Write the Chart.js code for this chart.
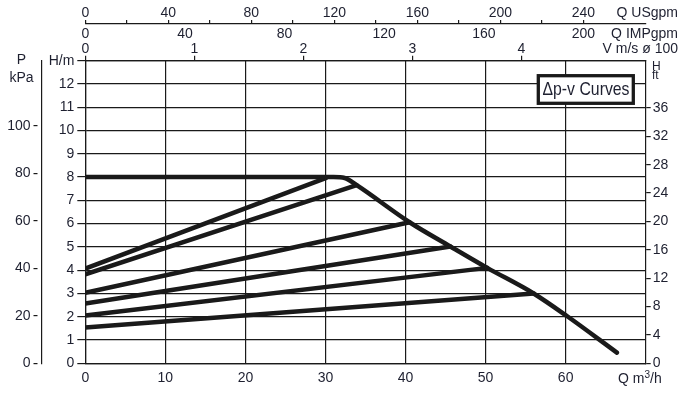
<!DOCTYPE html>
<html>
<head>
<meta charset="utf-8">
<title>Δp-v Curves</title>
<script src="https://cdn.jsdelivr.net/npm/chart.js@4/dist/chart.umd.min.js"></script>
<style>
  html, body { margin: 0; padding: 0; background: #fff; }
  #wrap { width: 687px; height: 395px; position: relative; }
</style>
</head>
<body>
<div id="wrap"><canvas id="pumpChart"></canvas></div>
<script>
'use strict';

// tick values of every axis
var qTicks = [0, 10, 20, 30, 40, 50, 60];
var hTicks = [0, 1, 2, 3, 4, 5, 6, 7, 8, 9, 10, 11, 12, 13];
var kpaTicks = [0, 20, 40, 60, 80, 100];
var ftTicks = [0, 4, 8, 12, 16, 20, 24, 28, 32, 36];
var usgpmTicks = [0, 20, 40, 60, 80, 100, 120, 140, 160, 180, 200, 220, 240];
var impTicks = [0, 40, 80, 120, 160, 200];
var velTicks = [0, 1, 2, 3, 4];

// max speed curve (Q m3/h, H m)
var maxQ = [0, 31, 32.4, 33.9, 40.5, 45.6, 50.2, 56, 60.2, 66.4];
var maxH = [8, 8, 7.96, 7.65, 6.06, 5.02, 4.1, 3.0, 2.02, 0.46];

// dp-v lines: head at zero flow, and where each one meets the max curve
var dpvStartH = [4.07, 3.82, 3.03, 2.57, 2.05, 1.54];
var dpvEndQ = [30.1, 33.9, 40.5, 45.6, 50.2, 56];
var dpvEndH = [7.97, 7.65, 6.06, 5.02, 4.1, 3.0];

(function() {
  var ink = '#1a1a1a';
  var textColor = '#1e2030';
  var font = '"Liberation Sans", Arial, sans-serif';

  Chart.defaults.font.family = font;
  Chart.defaults.font.size = 14;
  Chart.defaults.font.lineHeight = 1;
  Chart.defaults.color = textColor;

  function fixedTicks(list) {
    return function(scale) {
      scale.ticks = list.map(function(v) { return { value: v }; });
    };
  }

  var datasets = [];
  dpvStartH.forEach(function(h, i) {
    datasets.push({
      data: [{ x: 0, y: h }, { x: dpvEndQ[i], y: dpvEndH[i] }]
    });
  });
  datasets.push({
    data: maxQ.map(function(q, i) { return { x: q, y: maxH[i] }; }),
    cubicInterpolationMode: 'monotone'
  });
  datasets.forEach(function(d) {
    d.borderColor = ink;
    d.borderWidth = 4.5;
    d.pointRadius = 0;
    d.fill = false;
    d.borderCapStyle = 'round';
    d.borderJoinStyle = 'round';
  });

  var labelsPlugin = {
    id: 'curveLabels',
    afterDraw: function(chart) {
      var ctx = chart.ctx;
      ctx.save();
      ctx.fillStyle = textColor;
      ctx.textBaseline = 'middle';

      ctx.font = '14px ' + font;
      ctx.textAlign = 'right';
      ctx.fillText('Q USgpm', 678, 13);
      ctx.fillText('Q IMPgpm', 678, 34);
      ctx.fillText('V m/s ø 100', 678, 49);

      ctx.textAlign = 'center';
      ctx.fillText('P', 21.5, 60);
      ctx.fillText('kPa', 21.5, 78);

      ctx.font = '12px ' + font;
      ctx.textAlign = 'left';
      ctx.fillText('H', 652, 67);
      ctx.fillText('ft', 652, 76);

      ctx.font = '14px ' + font;
      ctx.fillText('Q m', 618, 379);
      var w = ctx.measureText('Q m').width;
      ctx.font = '10px ' + font;
      ctx.fillText('3', 618 + w, 375);
      var w3 = ctx.measureText('3').width;
      ctx.font = '14px ' + font;
      ctx.fillText('/h', 618 + w + w3, 379);

      // legend box
      ctx.fillStyle = '#fff';
      ctx.fillRect(538.3, 75.7, 95, 27.6);
      ctx.strokeStyle = ink;
      ctx.lineWidth = 3.3;
      ctx.strokeRect(538.3, 75.7, 95, 27.6);
      ctx.fillStyle = textColor;
      ctx.textAlign = 'center';
      ctx.font = '19px ' + font;
      ctx.fillText('Δp-v Curves', 586, 90, 87);
      ctx.restore();
    }
  };

  var gridLine = { color: ink, lineWidth: 1.2, drawTicks: false };

  new Chart(document.getElementById('pumpChart'), {
    type: 'line',
    data: { datasets: datasets },
    plugins: [labelsPlugin],
    options: {
      responsive: true,
      maintainAspectRatio: false,
      animation: false,
      layout: { padding: 0, autoPadding: false },
      plugins: { legend: { display: false }, tooltip: { enabled: false } },
      scales: {
        x: {
          type: 'linear', position: 'bottom', weight: 0, min: 0, max: 70,
          afterBuildTicks: fixedTicks(qTicks),
          afterFit: function(s) { s.height = 31.7; },
          grid: gridLine,
          border: { color: ink, width: 1.2 },
          ticks: { padding: 8, maxRotation: 0, autoSkip: false }
        },
        vel: {
          type: 'linear', axis: 'x', position: 'top', weight: 0, min: 0, max: 5.14,
          afterBuildTicks: fixedTicks(velTicks),
          afterFit: function(s) { s.height = 19.7; },
          grid: { drawOnChartArea: false, color: ink, lineWidth: 1.2, tickLength: 5 },
          border: { color: ink, width: 1.2 },
          ticks: { padding: 0, maxRotation: 0, autoSkip: false }
        },
        imp: {
          type: 'linear', axis: 'x', position: 'top', weight: 1, min: 0, max: 225,
          afterBuildTicks: fixedTicks(impTicks),
          afterFit: function(s) { s.height = 17; },
          grid: { display: false, drawTicks: false },
          border: { display: false },
          ticks: { padding: 0, maxRotation: 0, autoSkip: false }
        },
        usgpm: {
          type: 'linear', axis: 'x', position: 'top', weight: 2, min: 0, max: 270,
          afterBuildTicks: fixedTicks(usgpmTicks),
          afterFit: function(s) { s.height = 24; },
          grid: { drawOnChartArea: false, color: ink, lineWidth: 1.2, tickLength: 4 },
          border: { color: ink, width: 1.2 },
          ticks: {
            padding: 0, maxRotation: 0, autoSkip: false,
            callback: function(v) { return v % 40 === 0 ? v : ''; }
          }
        },
        y: {
          type: 'linear', position: 'left', weight: 0, min: 0, max: 13,
          afterBuildTicks: fixedTicks(hTicks),
          afterFit: function(s) { s.width = 43.3; },
          grid: { color: ink, lineWidth: 1.2, tickLength: 8 },
          border: { color: ink, width: 1.2 },
          ticks: {
            padding: 3,
            callback: function(v) { return v === 13 ? 'H/m' : v; }
          }
        },
        kpa: {
          type: 'linear', axis: 'y', position: 'left', weight: 1, min: 0, max: 13 * 9.80665,
          afterBuildTicks: fixedTicks(kpaTicks),
          afterFit: function(s) { s.width = 42; },
          grid: { drawOnChartArea: false, color: ink, lineWidth: 1.2, tickLength: 8.5, tickBorderDash: [4, 5] },
          border: { color: ink, width: 1.2 },
          ticks: { padding: 3 }
        },
        ft: {
          type: 'linear', axis: 'y', position: 'right', weight: 0, min: 0, max: 13 / 0.3048,
          afterBuildTicks: fixedTicks(ftTicks),
          afterFit: function(s) { s.width = 41.3; },
          grid: { drawOnChartArea: false, color: ink, lineWidth: 1.2, tickLength: 5 },
          border: { color: ink, width: 1.2 },
          ticks: { padding: 2 }
        }
      }
    }
  });
})();
</script>
</body>
</html>
